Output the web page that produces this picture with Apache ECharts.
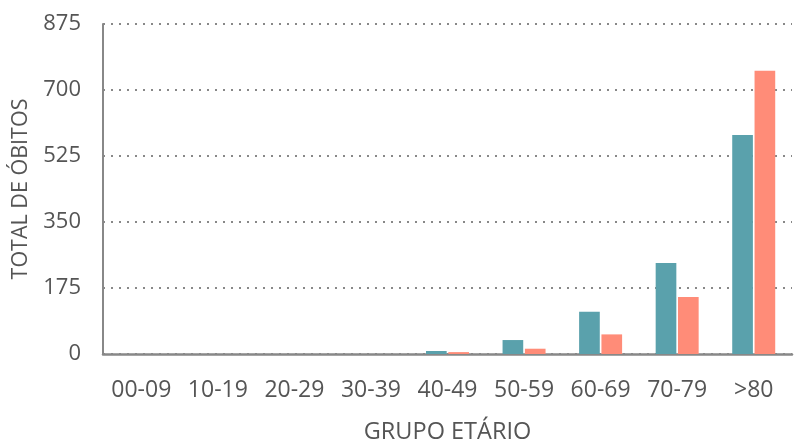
<!DOCTYPE html>
<html><head><meta charset="utf-8">
<script src="https://cdn.jsdelivr.net/npm/echarts@6/dist/echarts.min.js"></script>
<style>html,body{margin:0;padding:0;background:#fff}#c{width:799px;height:440px}</style>
</head><body><div id="c"></div>
<script>
const categories = ['00-09','10-19','20-29','30-39','40-49','50-59','60-69','70-79','>80'];
const seriesA = [0, 0, 0, 0, 8, 37, 112, 241, 581];
const seriesB = [0, 0, 0, 0, 5, 14, 52, 151, 751];
const yTicks = { min: 0, max: 875, interval: 175 };
const font = '"Open Sans", sans-serif';
const chart = echarts.init(document.getElementById('c'));
chart.setOption({
  animation: false,
  grid: { left: 103, right: 7, top: 24, bottom: 86, outerBoundsMode: 'none', containLabel: false },
  xAxis: {
    type: 'category', data: categories,
    name: 'GRUPO ETÁRIO', nameLocation: 'middle', nameGap: 66,
    nameTextStyle: { fontFamily: font, fontSize: 23.5, color: '#555' },
    axisLine: { lineStyle: { color: '#888', width: 2.5 } },
    axisTick: { show: false },
    axisLabel: { fontFamily: font, fontSize: 23, color: '#555', margin: 25, interval: 0 }
  },
  yAxis: {
    type: 'value', min: yTicks.min, max: yTicks.max, interval: yTicks.interval,
    name: 'TOTAL DE ÓBITOS', nameLocation: 'middle', nameGap: 63, nameRotate: 90,
    nameTextStyle: { fontFamily: font, fontSize: 21.5, color: '#555' },
    axisLine: { show: true, lineStyle: { color: '#888', width: 2 } },
    axisTick: { show: false },
    axisLabel: { fontFamily: font, fontSize: 22, color: '#555', margin: 22 },
    splitLine: { lineStyle: { color: '#888', width: 2, type: [2, 6] } }
  },
  series: [
    { type: 'bar', data: seriesA, barWidth: '27%', barGap: '8%',
      itemStyle: { color: '#5aa1ac' } },
    { type: 'bar', data: seriesB, barWidth: '27%',
      itemStyle: { color: '#ff8c78' } }
  ]
});
</script></body></html>
